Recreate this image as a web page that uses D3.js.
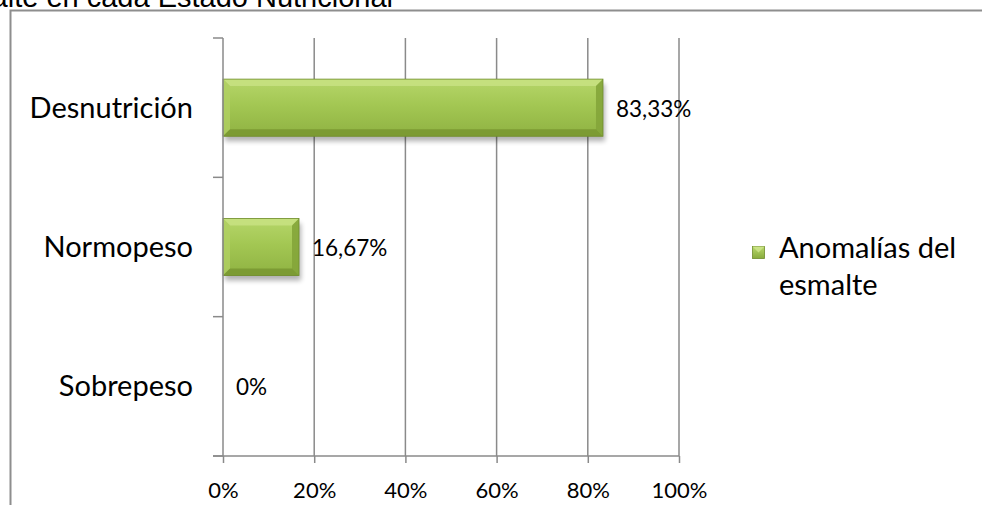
<!DOCTYPE html>
<html>
<head>
<meta charset="utf-8">
<script src="https://cdn.jsdelivr.net/npm/d3@7"></script>
<style>
  html, body { margin: 0; padding: 0; background: #fff; }
  svg { display: block; }
</style>
</head>
<body>
<svg id="chart" width="982" height="505"></svg>
<script>
// Estado nutricional vs. anomalías del esmalte (%)
const categories = ["Desnutrición", "Normopeso", "Sobrepeso"];
const values = [83.33, 16.67, 0];
const valueLabels = ["83,33%", "16,67%", "0%"];
const tickValues = [0, 20, 40, 60, 80, 100];
const tickLabels = ["0%", "20%", "40%", "60%", "80%", "100%"];
const seriesName = ["Anomalías del", "esmalte"];
const chartTitle = "Anomalías del esmalte en cada Estado Nutricional";

const svg = d3.select("#chart");
const FONT = "Lato, 'Open Sans', sans-serif";
const GRID = "#8a8a8a";

const plot = { left: 223, right: 679, top: 38, bottom: 456 };

const x = d3.scaleLinear().domain([0, 100]).range([plot.left, plot.right]);
const y = d3.scaleBand().domain(categories).range([plot.top, plot.bottom]).padding(0);
const barH = y.bandwidth() * 0.41;

const defs = svg.append("defs");
const face = defs.append("linearGradient").attr("id", "barFace")
  .attr("x1", 0).attr("y1", 0).attr("x2", 0).attr("y2", 1);
face.append("stop").attr("offset", "0%").attr("stop-color", "#b6d66a");
face.append("stop").attr("offset", "45%").attr("stop-color", "#a3c753");
face.append("stop").attr("offset", "100%").attr("stop-color", "#8fb242");
const shadow = defs.append("filter").attr("id", "barShadow")
  .attr("x", "-10%").attr("y", "-30%").attr("width", "120%").attr("height", "180%");
shadow.append("feGaussianBlur").attr("stdDeviation", 2.5);
const legendFace = defs.append("linearGradient").attr("id", "legendFace")
  .attr("x1", 0).attr("y1", 0).attr("x2", 0).attr("y2", 1);
legendFace.append("stop").attr("offset", "0%").attr("stop-color", "#b8d86c");
legendFace.append("stop").attr("offset", "100%").attr("stop-color", "#88ab3c");

// Chart title (runs past the top-left edge)
svg.append("text")
  .attr("x", 393).attr("y", 6.5)
  .attr("text-anchor", "end")
  .attr("font-family", "'Liberation Sans', Arial, sans-serif")
  .attr("font-size", 29)
  .attr("fill", "#000")
  .text(chartTitle);

// Outer frame
svg.append("rect")
  .attr("x", 10.5).attr("y", 10.5).attr("width", 1000).attr("height", 600)
  .attr("fill", "none").attr("stroke", "#8e8e8e").attr("stroke-width", 2);

// Vertical gridlines
svg.append("g").selectAll("line").data(tickValues.slice(1)).join("line")
  .attr("x1", d => x(d)).attr("x2", d => x(d))
  .attr("y1", plot.top).attr("y2", plot.bottom)
  .attr("stroke", GRID).attr("stroke-width", 1.5);

// Bars with bevelled edges and a soft drop shadow
const bars = svg.append("g").selectAll("g").data(categories).join("g");
bars.each(function (c, i) {
  const v = values[i];
  if (v <= 0) return;
  const g = d3.select(this);
  const x0 = x(0), x1 = x(v);
  const yc = y(c) + y.bandwidth() / 2;
  const y0 = yc - barH / 2, y1 = yc + barH / 2;
  const b = Math.min(7, (x1 - x0) / 4);
  g.append("rect")
    .attr("x", x0 + 2).attr("y", y0 + 5).attr("width", x1 - x0).attr("height", barH)
    .attr("fill", "#000").attr("opacity", 0.3).attr("filter", "url(#barShadow)");
  g.append("rect")
    .attr("x", x0).attr("y", y0).attr("width", x1 - x0).attr("height", barH)
    .attr("fill", "url(#barFace)");
  g.append("polygon")
    .attr("points", [[x0, y0], [x1, y0], [x1 - b, y0 + b], [x0 + b, y0 + b]].join(" "))
    .attr("fill", "#c8e282").attr("opacity", 0.85);
  g.append("polygon")
    .attr("points", [[x0, y0], [x0 + b, y0 + b], [x0 + b, y1 - b], [x0, y1]].join(" "))
    .attr("fill", "#b0d062").attr("opacity", 0.8);
  g.append("polygon")
    .attr("points", [[x1, y0], [x1, y1], [x1 - b, y1 - b], [x1 - b, y0 + b]].join(" "))
    .attr("fill", "#84a53a").attr("opacity", 0.9);
  g.append("polygon")
    .attr("points", [[x0, y1], [x1, y1], [x1 - b, y1 - b], [x0 + b, y1 - b]].join(" "))
    .attr("fill", "#7a9832").attr("opacity", 0.9);
  g.append("rect")
    .attr("x", x0).attr("y", y0).attr("width", x1 - x0).attr("height", barH)
    .attr("fill", "none").attr("stroke", "#6f8c2c").attr("stroke-width", 0.8);
});

// Value axis (bottom)
const xAxis = d3.axisBottom(x).tickValues(tickValues)
  .tickFormat((d, i) => tickLabels[i]).tickSize(7).tickPadding(19).tickSizeOuter(0);
const gx = svg.append("g").attr("transform", `translate(0,${plot.bottom})`).call(xAxis);
gx.select(".domain").remove();
gx.selectAll(".tick line").attr("stroke", GRID).attr("stroke-width", 1.5);
gx.selectAll(".tick text").attr("font-family", FONT).attr("font-size", 22).attr("fill", "#000");
svg.append("line")
  .attr("x1", plot.left - 10).attr("x2", plot.right)
  .attr("y1", plot.bottom).attr("y2", plot.bottom)
  .attr("stroke", GRID).attr("stroke-width", 1.5);

// Category axis (left)
svg.append("line")
  .attr("x1", plot.left).attr("x2", plot.left)
  .attr("y1", plot.top).attr("y2", plot.bottom)
  .attr("stroke", GRID).attr("stroke-width", 1.5);
const boundaries = categories.map(c => y(c)).concat([plot.bottom]);
svg.append("g").selectAll("line").data(boundaries).join("line")
  .attr("x1", plot.left - 10).attr("x2", plot.left)
  .attr("y1", d => d).attr("y2", d => d)
  .attr("stroke", GRID).attr("stroke-width", 1.5);
svg.append("g").selectAll("text").data(categories).join("text")
  .attr("x", 193)
  .attr("y", c => y(c) + y.bandwidth() / 2 + 10)
  .attr("text-anchor", "end")
  .attr("font-family", FONT).attr("font-size", 29).attr("fill", "#000")
  .text(c => c);

// Data labels
svg.append("g").selectAll("text").data(categories).join("text")
  .attr("x", (c, i) => x(values[i]) + 13)
  .attr("y", c => y(c) + y.bandwidth() / 2 + 9)
  .attr("font-family", FONT).attr("font-size", 22.5).attr("fill", "#000")
  .text((c, i) => valueLabels[i]);

// Legend
const lg = svg.append("g");
lg.append("rect")
  .attr("x", 752.5).attr("y", 246.5).attr("width", 12).attr("height", 12)
  .attr("fill", "url(#legendFace)").attr("stroke", "#6f8c2c").attr("stroke-width", 0.8);
lg.append("polygon")
  .attr("points", "752.5,246.5 764.5,246.5 758.5,252.5").attr("fill", "#cfe68c").attr("opacity", 0.8);
lg.append("text")
  .attr("font-family", FONT).attr("font-size", 29).attr("fill", "#000")
  .selectAll("tspan").data(seriesName).join("tspan")
  .attr("x", 779).attr("y", (d, i) => 258 + i * 37)
  .text(d => d);
</script>
</body>
</html>
